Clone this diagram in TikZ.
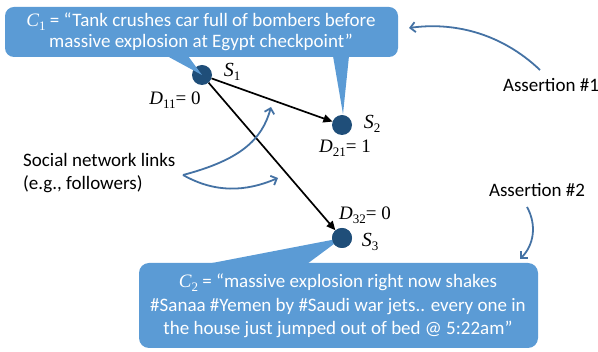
\documentclass[tikz,border=0pt]{standalone}
\usepackage{fontspec}
\setmainfont{Carlito}
\newfontfamily\tms{Liberation Serif}
\usetikzlibrary{arrows.meta}
\definecolor{callblue}{HTML}{5B9BD5}
\definecolor{nodeblue}{HTML}{1F4E79}
\definecolor{curveblue}{HTML}{4472A4}
\newcommand{\vsub}[2]{{\tms\itshape #1}\raisebox{-0.4ex}{\tms\fontsize{13}{13}\selectfont #2}}
\begin{document}
\begin{tikzpicture}[x=1pt,y=-1pt,
  callout/.style={fill=callblue},
  calltext/.style={text=white,align=center,font=\fontsize{19}{21.5}\selectfont,inner sep=0pt},
  plain/.style={align=left,font=\fontsize{19}{23}\selectfont,inner sep=0pt},
  src/.style={circle,fill=nodeblue,minimum size=20pt,inner sep=0pt},
  lab/.style={inner sep=0pt,font=\fontsize{20}{20}\selectfont},
  dlab/.style={inner sep=0pt,font=\fontsize{19}{19}\selectfont},
  link/.style={line width=1.7pt,-{Triangle[length=9pt,width=8pt]}},
  curv/.style={curveblue,line width=1.8pt,-{Straight Barb[length=5pt,width=10pt]}}]
\useasboundingbox (0,0) rectangle (598,352);
% nodes
\node[src] (s1) at (202,75) {};
\node[src] (s2) at (342,125) {};
\node[src] (s3) at (342,238) {};
% callout 1
\coordinate (c1a) at (167,56);
\coordinate (c1b) at (188,56);
\coordinate (c1c) at (333,56);
\coordinate (c1d) at (349,56);
\coordinate (c1tip) at (343,114);
\fill[callout] (c1a) -- (s1.center) -- (c1b) -- cycle;
\fill[callout] (c1c) -- (c1tip) -- (c1d) -- cycle;
\fill[callout,rounded corners=9pt] (5,7) rectangle (398,57);
\node[calltext] (c1) at (201,32) {\vsub{C}{1} = “Tank crushes car full of bombers before\\massive explosion at Egypt checkpoint”};
% callout 2
\coordinate (c2a) at (207,264);
\coordinate (c2b) at (307,264);
\fill[callout] (c2a) -- (s3.center) -- (c2b) -- cycle;
\fill[callout,rounded corners=10pt] (139,263) rectangle (538,348);
\node[src] at (s3) {};
\node[calltext,font=\fontsize{19}{23.5}\selectfont] (c2) at (338,306) {\vsub{C}{2} = “massive explosion right now shakes\\\#Sanaa \#Yemen by \#Saudi war jets.. every one in\\the house just jumped out of bed @ 5:22am”};
% links
\draw[link] (s1) -- (s2);
\draw[link] (s1) -- (s3);
% labels
\node[lab] (l1) at (232,72) {\vsub{S}{1}};
\node[lab] (l2) at (372,124) {\vsub{S}{2}};
\node[lab] (l3) at (370,242) {\vsub{S}{3}};
\node[dlab] (d1) at (175,100) {\vsub{D}{11}{\tms= 0}};
\node[dlab] (d2) at (345,148) {\vsub{D}{21}{\tms= 1}};
\node[dlab] (d3) at (365,215) {\vsub{D}{32}{\tms= 0}};
% social network links
\node[plain,anchor=west] (soc) at (23,173) {Social network links\\(e.g., followers)};
\coordinate (lk) at (183,175);
\coordinate (lk1) at (271,107);
\coordinate (lk2) at (278,178);
\draw[curv] (lk) .. controls (240,160) and (262,140) .. (lk1);
\draw[curv] (lk) .. controls (215,193) and (245,192) .. (lk2);
% assertions
\node[plain] (a1) at (551,85) {Assertion \#1};
\node[plain] (a2) at (537,190) {Assertion \#2};
\coordinate (a1s) at (540,70);
\coordinate (a1e) at (409,28);
\coordinate (a2s) at (527,207);
\coordinate (a2e) at (520,259);
\draw[curv] (a1s) .. controls (500,32) and (452,22) .. (a1e);
\draw[curv] (a2s) .. controls (537,225) and (534,245) .. (a2e);
\end{tikzpicture}
\end{document}
